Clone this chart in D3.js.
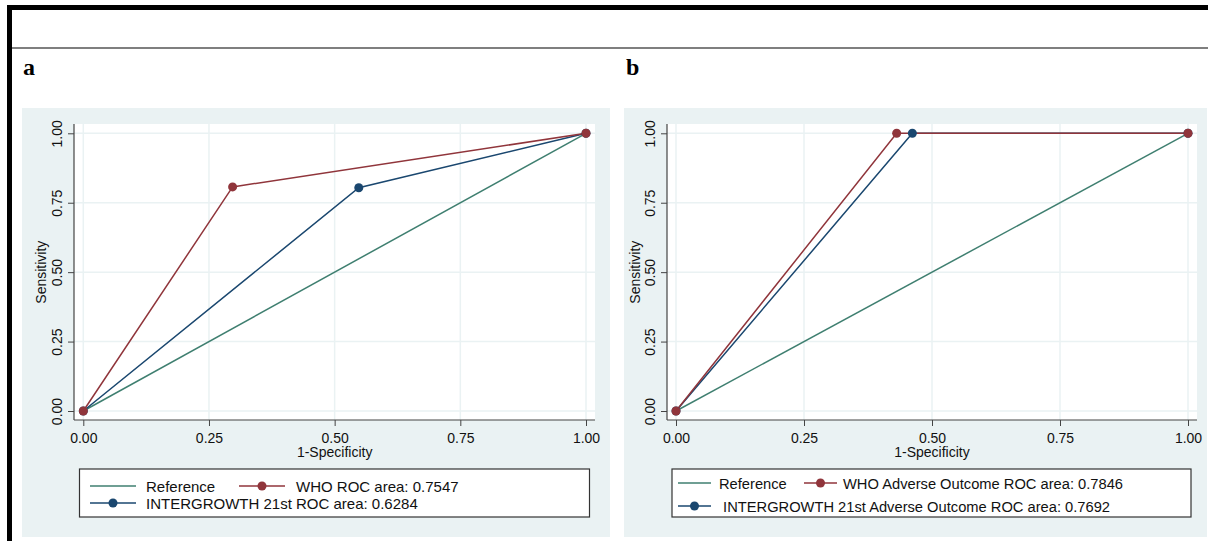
<!DOCTYPE html>
<html>
<head>
<meta charset="utf-8">
<script src="https://cdn.jsdelivr.net/npm/d3@7"></script>
<style>
  body { margin: 0; background: #fff; }
  svg { display: block; font-family: "Liberation Sans", Arial, sans-serif; }
</style>
</head>
<body>
<div id="chart"></div>
<script>
// Define SVG area dimensions
var svgWidth = 1208;
var svgHeight = 541;

// Axis ticks shared by both panels
var tickValues = [0, 0.25, 0.5, 0.75, 1];

// Panel a: 1-specificity / sensitivity points
var refX = [0, 1];
var refY = [0, 1];
var whoX_a = [0, 0.297, 1];
var whoY_a = [0, 0.807, 1];
var igX_a = [0, 0.548, 1];
var igY_a = [0, 0.804, 1];

// Panel b: adverse outcome
var whoX_b = [0, 0.431, 1];
var whoY_b = [0, 1, 1];
var igX_b = [0, 0.4616, 1];
var igY_b = [0, 1, 1];

// Legend labels
var legendA = ["Reference", "WHO ROC area: 0.7547", "INTERGROWTH 21st ROC area: 0.6284"];
var legendB = ["Reference", "WHO Adverse Outcome ROC area: 0.7846", " INTERGROWTH 21st Adverse Outcome ROC area: 0.7692"];

// colours (Stata s2color look)
var bgColor = "#eaf2f3";
var refColor = "#3f7f70";
var whoColor = "#90353b";
var igColor = "#1a476f";

var svg = d3
  .select("#chart")
  .append("svg")
  .attr("width", svgWidth)
  .attr("height", svgHeight);

// page frame: thick black top + left bar, thin grey rule
svg.append("rect").attr("x", 7).attr("y", 5).attr("width", svgWidth - 7).attr("height", 5).attr("fill", "#000");
svg.append("rect").attr("x", 7).attr("y", 5).attr("width", 5).attr("height", svgHeight - 5).attr("fill", "#000");
svg.append("line")
  .attr("x1", 12).attr("x2", svgWidth)
  .attr("y1", 48).attr("y2", 48)
  .attr("stroke", "#555").attr("stroke-width", 1.5);

function zip(xs, ys) {
  return xs.map((x, i) => [x, ys[i]]);
}

function drawPanel(cfg) {
  var g = svg.append("g");

  // panel letter
  g.append("text")
    .attr("x", cfg.letterX)
    .attr("y", 75)
    .attr("font-family", "'Liberation Serif', 'Times New Roman', serif")
    .attr("font-weight", "bold")
    .attr("font-size", 24)
    .text(cfg.letter);

  // graph region background
  g.append("rect")
    .attr("x", cfg.bgX).attr("y", 108)
    .attr("width", cfg.bgW).attr("height", 429)
    .attr("fill", bgColor);

  // plot region
  g.append("rect")
    .attr("x", cfg.plotL).attr("y", cfg.plotT)
    .attr("width", cfg.plotR - cfg.plotL).attr("height", cfg.plotB - cfg.plotT)
    .attr("fill", "#fff");

  var x = d3.scaleLinear().domain([0, 1]).range([cfg.x0, cfg.x1]);
  var y = d3.scaleLinear().domain([0, 1]).range([411, 133.3]);

  // grid lines
  g.selectAll(".vgrid").data(tickValues).enter().append("line")
    .attr("x1", d => x(d)).attr("x2", d => x(d))
    .attr("y1", cfg.plotT).attr("y2", cfg.plotB)
    .attr("stroke", bgColor).attr("stroke-width", 1.5);
  g.selectAll(".hgrid").data(tickValues).enter().append("line")
    .attr("y1", d => y(d)).attr("y2", d => y(d))
    .attr("x1", cfg.plotL).attr("x2", cfg.plotR)
    .attr("stroke", bgColor).attr("stroke-width", 1.5);

  // axes
  var bottomAxis = d3.axisBottom(x).tickValues(tickValues).tickFormat(d3.format(".2f")).tickSize(6);
  var leftAxis = d3.axisLeft(y).tickValues(tickValues).tickFormat(d3.format(".2f")).tickSize(6);

  var xAxis = g.append("g")
    .attr("transform", `translate(0, ${cfg.plotB})`)
    .call(bottomAxis);
  xAxis.select(".domain").remove();
  xAxis.selectAll("line").attr("stroke", "#444");
  xAxis.selectAll("text")
    .attr("y", 23).attr("dy", 0)
    .attr("font-size", 14).attr("fill", "#111")
    .attr("font-family", "'Liberation Sans', Arial, sans-serif");

  var yAxis = g.append("g")
    .attr("transform", `translate(${cfg.plotL}, 0)`)
    .call(leftAxis);
  yAxis.select(".domain").remove();
  yAxis.selectAll("line").attr("stroke", "#444");
  yAxis.selectAll("text")
    .attr("transform", "rotate(-90)")
    .attr("x", 0).attr("y", -12).attr("dy", 0)
    .attr("text-anchor", "middle")
    .attr("font-size", 14).attr("fill", "#111")
    .attr("font-family", "'Liberation Sans', Arial, sans-serif");

  // axis lines along plot region edges
  g.append("line")
    .attr("x1", cfg.plotL).attr("x2", cfg.plotR)
    .attr("y1", cfg.plotB).attr("y2", cfg.plotB)
    .attr("stroke", "#444").attr("stroke-width", 1.2);
  g.append("line")
    .attr("x1", cfg.plotL).attr("x2", cfg.plotL)
    .attr("y1", cfg.plotT).attr("y2", cfg.plotB)
    .attr("stroke", "#444").attr("stroke-width", 1.2);

  // axis titles
  g.append("text")
    .attr("x", (cfg.x0 + cfg.x1) / 2).attr("y", 457)
    .attr("text-anchor", "middle").attr("font-size", 14).attr("fill", "#111")
    .text("1-Specificity");
  g.append("text")
    .attr("transform", `translate(${cfg.sensX}, ${y(0.5)}) rotate(-90)`)
    .attr("text-anchor", "middle").attr("font-size", 14).attr("fill", "#111")
    .text("Sensitivity");

  var line = d3.line().x(d => x(d[0])).y(d => y(d[1]));

  // curves
  g.append("path").datum(zip(refX, refY))
    .attr("d", line).attr("fill", "none").attr("stroke", refColor).attr("stroke-width", 1.5);
  g.append("path").datum(cfg.ig)
    .attr("d", line).attr("fill", "none").attr("stroke", igColor).attr("stroke-width", 1.5);
  g.append("path").datum(cfg.who)
    .attr("d", line).attr("fill", "none").attr("stroke", whoColor).attr("stroke-width", 1.5);

  g.selectAll(".igpt").data(cfg.ig).enter().append("circle")
    .attr("cx", d => x(d[0])).attr("cy", d => y(d[1])).attr("r", 4.5).attr("fill", igColor);
  g.selectAll(".whopt").data(cfg.who).enter().append("circle")
    .attr("cx", d => x(d[0])).attr("cy", d => y(d[1])).attr("r", 4.5).attr("fill", whoColor);

  // legend
  var lg = cfg.legend;
  g.append("rect")
    .attr("x", lg.x).attr("y", 469).attr("width", lg.w).attr("height", 48)
    .attr("fill", "#fff").attr("stroke", "#333").attr("stroke-width", 1.2);

  var keys = [
    { color: refColor, marker: false, x1: lg.k1[0], x2: lg.k1[1], y: lg.r1, tx: lg.t1, label: cfg.labels[0] },
    { color: whoColor, marker: true, x1: lg.k2[0], x2: lg.k2[1], y: lg.r1, tx: lg.t2, label: cfg.labels[1] },
    { color: igColor, marker: true, x1: lg.k1[0], x2: lg.k1[1], y: lg.r2, tx: lg.t1, label: cfg.labels[2] }
  ];
  keys.forEach(function(k) {
    g.append("line")
      .attr("x1", k.x1).attr("x2", k.x2).attr("y1", k.y).attr("y2", k.y)
      .attr("stroke", k.color).attr("stroke-width", 1.5);
    if (k.marker) {
      g.append("circle").attr("cx", (k.x1 + k.x2) / 2).attr("cy", k.y).attr("r", 4.5).attr("fill", k.color);
    }
    g.append("text")
      .attr("x", k.tx).attr("y", k.y + 5.5)
      .attr("font-size", lg.fs).attr("fill", "#111")
      .style("white-space", "pre")
      .text(k.label);
  });
}

drawPanel({
  letter: "a", letterX: 23,
  bgX: 22, bgW: 588,
  plotL: 74, plotR: 595, plotT: 124, plotB: 420,
  x0: 83.3, x1: 586,
  sensX: 46,
  who: zip(whoX_a, whoY_a),
  ig: zip(igX_a, igY_a),
  labels: legendA,
  legend: { x: 79.5, w: 510, k1: [90, 136], k2: [239, 285], t1: 146, t2: 296, r1: 486, r2: 503, fs: 15 }
});

drawPanel({
  letter: "b", letterX: 626,
  bgX: 624, bgW: 583,
  plotL: 667, plotR: 1197, plotT: 124, plotB: 420,
  x0: 676, x1: 1188,
  sensX: 640,
  who: zip(whoX_b, whoY_b),
  ig: zip(igX_b, igY_b),
  labels: legendB,
  legend: { x: 672, w: 519, k1: [678, 711], k2: [804, 837], t1: 719, t2: 843, r1: 483, r2: 506, fs: 14.7 }
});
</script>
</body>
</html>
